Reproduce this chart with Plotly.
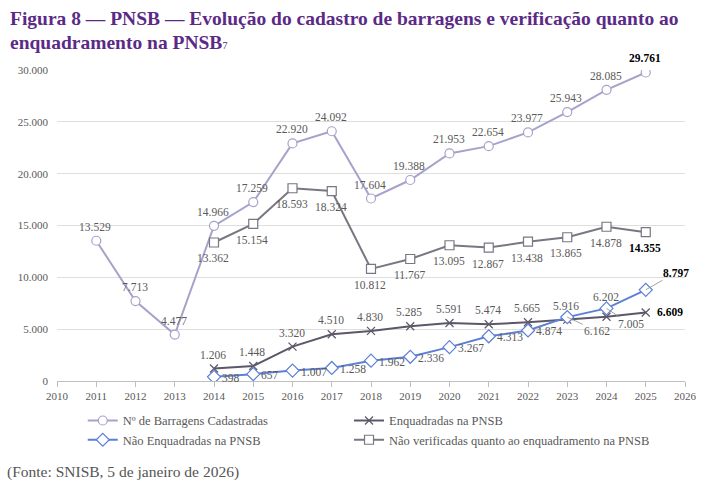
import plotly.graph_objects as go

years_all = [2011, 2012, 2013, 2014, 2015, 2016, 2017, 2018, 2019, 2020, 2021, 2022, 2023, 2024, 2025]
barragens = [13529, 7713, 4477, 14966, 17259, 22920, 24092, 17604, 19388, 21953, 22654, 23977, 25943, 28085, 29761]

years = [2014, 2015, 2016, 2017, 2018, 2019, 2020, 2021, 2022, 2023, 2024, 2025]
enquadradas = [1206, 1448, 3320, 4510, 4830, 5285, 5591, 5474, 5665, 5916, 6202, 6609]
nao_enquadradas = [398, 657, 1007, 1258, 1962, 2336, 3267, 4313, 4874, 6162, 7005, 8797]
nao_verificadas = [13362, 15154, 18593, 18324, 10812, 11767, 13095, 12867, 13438, 13865, 14878, 14355]

names = ["Nº de Barragens Cadastradas", "Enquadradas na PNSB",
         "Não Enquadradas na PNSB", "Não verificadas quanto ao enquadramento na PNSB"]

title_line1 = "Figura 8 — PNSB — Evolução do cadastro de barragens e verificação quanto ao"
title_line2 = "enquadramento na PNSB"
title_sup = "7"
source_text = "(Fonte: SNISB, 5 de janeiro de 2026)"

C_BAR = "#a7a2cb"
C_ENQ = "#5d5769"
C_NENQ = "#5b80d5"
C_NVER = "#7a7682"
LBL = "#595959"
SERIF = "Liberation Serif"


def fmt(v):
    return f"{v:,}".replace(",", ".")


fig = go.Figure()
fig.add_trace(go.Scatter(x=years_all, y=barragens, name=names[0], mode="lines+markers",
                         line=dict(color=C_BAR, width=2),
                         marker=dict(symbol="circle", size=9, color="white",
                                     line=dict(color=C_BAR, width=1.2)),
                         legend="legend"))
fig.add_trace(go.Scatter(x=years, y=enquadradas, name=names[1], mode="lines+markers",
                         line=dict(color=C_ENQ, width=2),
                         marker=dict(symbol="x-thin", size=8,
                                     line=dict(color=C_ENQ, width=1.2)),
                         legend="legend2"))
fig.add_trace(go.Scatter(x=years, y=nao_enquadradas, name=names[2], mode="lines+markers",
                         line=dict(color=C_NENQ, width=2),
                         marker=dict(symbol="diamond", size=10, color="white",
                                     line=dict(color=C_NENQ, width=1.2)),
                         legend="legend"))
fig.add_trace(go.Scatter(x=years, y=nao_verificadas, name=names[3], mode="lines+markers",
                         line=dict(color=C_NVER, width=2),
                         marker=dict(symbol="square", size=9, color="white",
                                     line=dict(color=C_NVER, width=1.2)),
                         legend="legend2"))

annotations = []


def lab(x, y, text, bold=False, **kw):
    t = f"<b>{text}</b>" if bold else text
    d = dict(x=x, y=y, xref="x", yref="y", text=t, showarrow=False,
             font=dict(family=SERIF, size=11.5, color="#000000" if bold else LBL))
    d.update(kw)
    annotations.append(d)


# Barragens labels: above
for i, (x, v) in enumerate(zip(years_all, barragens)):
    last = i == len(years_all) - 1
    lab(x, v, fmt(v), bold=last, yshift=14, xshift=-1)

# Não verificadas: below
for i, (x, v) in enumerate(zip(years, nao_verificadas)):
    last = i == len(years) - 1
    lab(x, v, fmt(v), bold=last, yshift=-16, xshift=-1)

# Enquadradas: above, last to the right
for i, (x, v) in enumerate(zip(years, enquadradas)):
    if i == len(years) - 1:
        lab(x, v, fmt(v), bold=True, xanchor="left", xshift=9, yshift=0)
    elif x == 2024:
        lab(x, v, fmt(v), yshift=20, xshift=-1)
    else:
        lab(x, v, fmt(v), yshift=14, xshift=-1)

# Não Enquadradas: right, leader lines for the last three
for i, (x, v) in enumerate(zip(years, nao_enquadradas)):
    if x == 2023:
        lab(x, v, fmt(v), showarrow=True, ax=30, ay=14, arrowhead=0,
            arrowwidth=0.8, arrowcolor="#8c8c8c")
    elif x == 2024:
        lab(x, v, fmt(v), showarrow=True, ax=24, ay=16, arrowhead=0,
            arrowwidth=0.8, arrowcolor="#8c8c8c")
    elif x == 2025:
        lab(x, v, fmt(v), bold=True, showarrow=True, ax=30, ay=-17, arrowhead=0,
            arrowwidth=0.8, arrowcolor="#8c8c8c")
    else:
        lab(x, v, fmt(v), xanchor="left", xshift=6, yshift=-1)

# Title (two lines) and source
title_font = dict(family=SERIF, size=19.5, color="#5b2a86")
annotations.append(dict(x=-0.078, y=1.164, xref="paper", yref="paper", xanchor="left",
                        yanchor="middle", text=f"<b>{title_line1}</b>", showarrow=False,
                        font=title_font))
annotations.append(dict(x=-0.078, y=1.09, xref="paper", yref="paper", xanchor="left",
                        yanchor="middle",
                        text=f"<b>{title_line2}</b><span style='font-size:10px'>{title_sup}</span>",
                        showarrow=False, font=title_font))
annotations.append(dict(x=-0.083, y=-0.294, xref="paper", yref="paper", xanchor="left",
                        yanchor="middle", text=source_text, showarrow=False,
                        font=dict(family=SERIF, size=15.5, color="#555555")))

legend_common = dict(orientation="v", yanchor="top", xanchor="left", itemwidth=30,
                     bgcolor="rgba(0,0,0,0)", tracegroupgap=0,
                     font=dict(family=SERIF, size=12.5, color=LBL))

fig.update_layout(
    width=709, height=488,
    margin=dict(l=57, r=21, t=70, b=107),
    paper_bgcolor="white", plot_bgcolor="white",
    separators=",.",
    showlegend=True,
    xaxis=dict(range=[2010, 2026], dtick=1, tick0=2010, showgrid=False,
               showline=True, linecolor="#bfbfbf", linewidth=1,
               ticks="outside", ticklen=5, tickcolor="#bfbfbf",
               tickfont=dict(family=SERIF, size=11, color=LBL), zeroline=False),
    yaxis=dict(range=[0, 30000], dtick=5000, tickformat=",d", showgrid=True,
               gridcolor="#dedede", gridwidth=1, zeroline=False, showline=False,
               tickfont=dict(family=SERIF, size=11, color=LBL), ticks="",
               ticklabelstandoff=8),
    legend=dict(x=0.041, y=-0.08, **legend_common),
    legend2=dict(x=0.465, y=-0.08, **legend_common),
    annotations=annotations,
)

fig.write_html("out.html")
